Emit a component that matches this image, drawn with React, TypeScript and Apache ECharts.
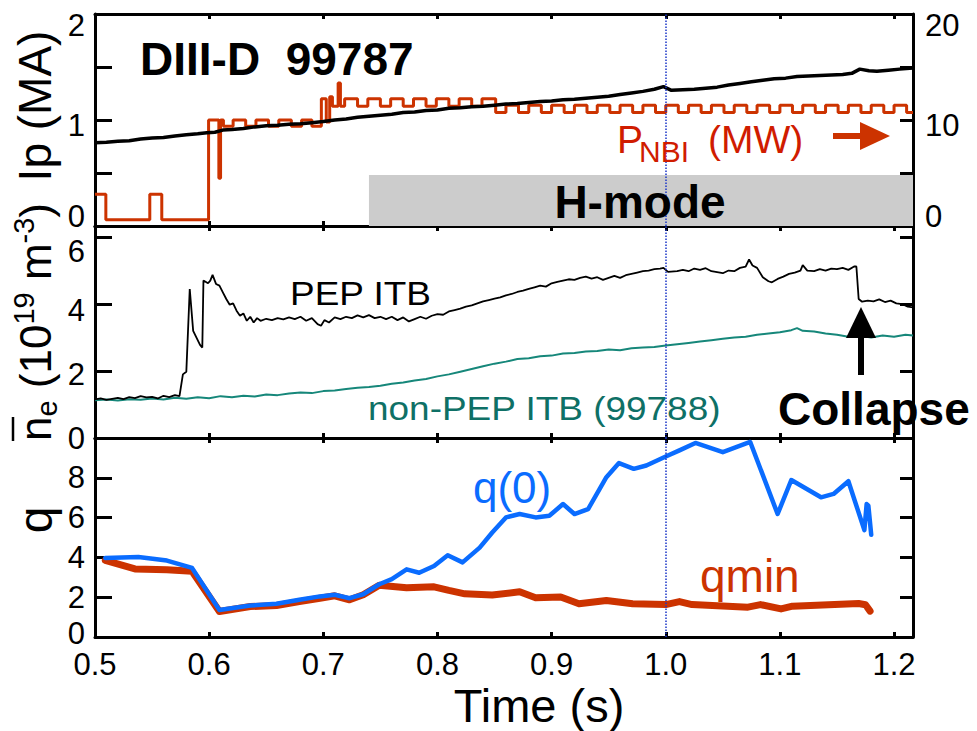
import React, { useEffect, useRef } from 'react';
import * as echarts from 'echarts';

const FONT = '"Liberation Sans", Arial, Helvetica, sans-serif';
const X_MIN = 0.5;
const X_MAX = 1.2166;

// ---- tick values / labels ----
const xTicks = [0.5, 0.6, 0.7, 0.8, 0.9, 1.0, 1.1, 1.2];
const ipTicks = [0, 0.5, 1, 1.5, 2];
const ipLabels = [0, 1, 2];
const nbiTicks = [0, 5, 10, 15, 20];
const nbiLabels = [0, 10, 20];
const neTicks = [2, 4, 6];
const neLabels = [0, 2, 4, 6];
const qTicks = [2, 4, 6, 8];
const qLabels = [0, 2, 4, 6, 8];

// ---- data: plasma current Ip (MA) ----
const ipCurrent: [number, number][] = [
  [0.500, 0.785], [0.510, 0.79], [0.520, 0.80], [0.530, 0.805], [0.540, 0.82], [0.550, 0.83],
  [0.560, 0.835], [0.570, 0.85], [0.580, 0.86], [0.590, 0.87], [0.598, 0.88], [0.605, 0.885],
  [0.612, 0.905], [0.620, 0.91], [0.630, 0.92], [0.640, 0.935], [0.650, 0.945], [0.660, 0.95],
  [0.670, 0.96], [0.680, 0.965], [0.690, 0.975], [0.700, 0.985], [0.710, 1.0], [0.720, 1.01],
  [0.730, 1.025], [0.740, 1.035], [0.750, 1.045], [0.760, 1.055], [0.770, 1.07], [0.780, 1.075],
  [0.790, 1.09], [0.800, 1.095], [0.810, 1.11], [0.820, 1.115], [0.830, 1.125], [0.840, 1.13],
  [0.850, 1.14], [0.860, 1.15], [0.870, 1.155], [0.880, 1.165], [0.890, 1.175], [0.900, 1.18],
  [0.910, 1.19], [0.920, 1.195], [0.930, 1.205], [0.940, 1.215], [0.950, 1.225], [0.960, 1.24],
  [0.970, 1.255], [0.980, 1.27], [0.990, 1.29], [0.998, 1.315], [1.005, 1.28], [1.015, 1.285],
  [1.025, 1.29], [1.035, 1.30], [1.045, 1.31], [1.055, 1.33], [1.065, 1.345], [1.075, 1.36],
  [1.085, 1.375], [1.095, 1.39], [1.105, 1.395], [1.115, 1.41], [1.125, 1.415], [1.135, 1.42],
  [1.145, 1.425], [1.155, 1.43], [1.163, 1.44], [1.170, 1.48], [1.178, 1.465], [1.185, 1.46],
  [1.195, 1.47], [1.205, 1.48], [1.2166, 1.49],
];

// ---- data: neutral beam power P_NBI (MW), step points ----
const nbiPower: [number, number][] = [
  [0.500, 3.0], [0.5095, 0.6], [0.548, 3.0], [0.5585, 0.6], [0.5995, 10.0], [0.6085, 4.5],
  [0.610, 10.0], [0.6125, 9.4], [0.621, 10.0], [0.632, 9.4], [0.641, 10.0], [0.652, 9.4],
  [0.661, 10.0], [0.672, 9.4], [0.681, 10.0], [0.690, 9.4], [0.6983, 12.0], [0.7026, 9.8],
  [0.7056, 12.2], [0.708, 11.3], [0.7130, 13.5], [0.7150, 11.3], [0.7187, 12.0], [0.730, 11.3],
  [0.739, 12.0], [0.750, 11.3], [0.759, 12.0], [0.770, 11.3], [0.779, 12.0], [0.790, 11.3],
  [0.799, 12.0], [0.810, 11.3], [0.819, 12.0], [0.830, 11.3], [0.839, 12.0], [0.851, 10.7],
  [0.860, 11.4], [0.871, 10.7], [0.880, 11.4], [0.891, 10.7], [0.900, 11.4], [0.911, 10.7],
  [0.920, 11.4], [0.931, 10.7], [0.940, 11.4], [0.951, 10.7], [0.960, 11.4], [0.971, 10.7],
  [0.980, 11.4], [0.991, 10.7], [1.000, 11.4], [1.011, 10.7], [1.020, 11.4], [1.031, 10.7],
  [1.040, 11.4], [1.051, 10.7], [1.060, 11.4], [1.071, 10.7], [1.080, 11.4], [1.091, 10.7],
  [1.100, 11.4], [1.111, 10.7], [1.120, 11.4], [1.131, 10.7], [1.140, 11.4], [1.151, 10.7],
  [1.160, 11.4], [1.171, 10.7], [1.180, 11.4], [1.191, 10.7], [1.200, 11.4], [1.211, 10.7],
  [1.2166, 10.7],
];

// ---- data: line-averaged density, PEP ITB shot 99787 ----
const nePep: [number, number][] = [
  [0.500, 1.15], [0.505, 1.18], [0.510, 1.14], [0.515, 1.17], [0.520, 1.20], [0.525, 1.16],
  [0.530, 1.22], [0.535, 1.19], [0.540, 1.25], [0.545, 1.21], [0.550, 1.23], [0.555, 1.18],
  [0.560, 1.26], [0.565, 1.22], [0.570, 1.28], [0.574, 1.25], [0.577, 1.90], [0.580, 1.98],
  [0.583, 4.45], [0.586, 3.20], [0.592, 2.78], [0.594, 2.70], [0.595, 4.70], [0.599, 4.62],
  [0.601, 4.70], [0.603, 4.87], [0.606, 4.60], [0.609, 4.55], [0.612, 4.35], [0.615, 4.15],
  [0.618, 3.98], [0.621, 4.02], [0.624, 3.80], [0.627, 3.65], [0.630, 3.72], [0.633, 3.50],
  [0.636, 3.62], [0.639, 3.45], [0.642, 3.58], [0.645, 3.50], [0.650, 3.56], [0.655, 3.52],
  [0.660, 3.58], [0.665, 3.54], [0.670, 3.60], [0.675, 3.55], [0.680, 3.62], [0.685, 3.50],
  [0.690, 3.58], [0.695, 3.40], [0.698, 3.35], [0.701, 3.52], [0.705, 3.45], [0.710, 3.60],
  [0.715, 3.55], [0.720, 3.62], [0.725, 3.58], [0.730, 3.66], [0.735, 3.60], [0.740, 3.67],
  [0.745, 3.58], [0.750, 3.62], [0.755, 3.55], [0.760, 3.62], [0.765, 3.52], [0.770, 3.60],
  [0.775, 3.48], [0.780, 3.55], [0.785, 3.62], [0.790, 3.56], [0.795, 3.65], [0.800, 3.70],
  [0.805, 3.68], [0.810, 3.78], [0.815, 3.82], [0.820, 3.86], [0.825, 3.92], [0.830, 3.96],
  [0.835, 4.02], [0.840, 4.08], [0.845, 4.12], [0.850, 4.16], [0.855, 4.20], [0.860, 4.26],
  [0.865, 4.30], [0.870, 4.36], [0.875, 4.40], [0.880, 4.45], [0.885, 4.50], [0.890, 4.55],
  [0.895, 4.52], [0.900, 4.62], [0.905, 4.66], [0.910, 4.70], [0.915, 4.74], [0.920, 4.72],
  [0.925, 4.78], [0.930, 4.82], [0.935, 4.76], [0.940, 4.80], [0.945, 4.72], [0.950, 4.78],
  [0.955, 4.84], [0.960, 4.78], [0.965, 4.86], [0.970, 4.90], [0.975, 4.94], [0.980, 4.98],
  [0.985, 5.00], [0.990, 5.04], [0.995, 5.06], [0.998, 5.08], [1.002, 4.96], [1.010, 4.98],
  [1.015, 5.02], [1.020, 4.98], [1.025, 5.06], [1.030, 5.02], [1.035, 5.07], [1.040, 4.98],
  [1.045, 4.95], [1.050, 4.92], [1.055, 5.00], [1.060, 4.98], [1.065, 5.08], [1.070, 5.12],
  [1.073, 5.33], [1.076, 5.15], [1.080, 5.08], [1.085, 4.80], [1.090, 4.68], [1.093, 4.65],
  [1.098, 4.75], [1.103, 4.82], [1.108, 4.90], [1.113, 4.94], [1.118, 5.00], [1.120, 5.16],
  [1.124, 5.00], [1.130, 4.98], [1.135, 5.04], [1.140, 5.00], [1.145, 5.06], [1.150, 5.04],
  [1.155, 5.08], [1.160, 5.02], [1.165, 5.12], [1.167, 5.12], [1.169, 4.15], [1.172, 4.07],
  [1.177, 4.10], [1.182, 4.08], [1.187, 4.14], [1.192, 4.06], [1.197, 4.10], [1.202, 4.02],
  [1.207, 4.00], [1.212, 3.92], [1.2166, 3.90],
];

// ---- data: line-averaged density, non-PEP ITB shot 99788 ----
const neNonPep: [number, number][] = [
  [0.500, 1.13], [0.510, 1.15], [0.520, 1.12], [0.530, 1.16], [0.540, 1.14], [0.550, 1.18],
  [0.560, 1.15], [0.570, 1.20], [0.580, 1.17], [0.590, 1.22], [0.600, 1.19], [0.610, 1.25],
  [0.620, 1.22], [0.630, 1.26], [0.640, 1.24], [0.650, 1.30], [0.660, 1.28], [0.670, 1.33],
  [0.680, 1.36], [0.690, 1.34], [0.700, 1.40], [0.710, 1.42], [0.720, 1.46], [0.730, 1.50],
  [0.740, 1.52], [0.750, 1.56], [0.760, 1.62], [0.770, 1.66], [0.780, 1.72], [0.790, 1.76],
  [0.800, 1.84], [0.810, 1.90], [0.820, 1.98], [0.830, 2.06], [0.840, 2.14], [0.850, 2.22],
  [0.860, 2.28], [0.870, 2.36], [0.880, 2.38], [0.890, 2.44], [0.900, 2.46], [0.910, 2.52],
  [0.920, 2.54], [0.930, 2.58], [0.940, 2.60], [0.950, 2.64], [0.960, 2.62], [0.970, 2.68],
  [0.980, 2.70], [0.990, 2.72], [1.000, 2.76], [1.010, 2.80], [1.020, 2.84], [1.030, 2.88],
  [1.040, 2.92], [1.050, 2.96], [1.060, 3.00], [1.070, 3.02], [1.080, 3.08], [1.090, 3.12],
  [1.100, 3.16], [1.110, 3.22], [1.115, 3.28], [1.120, 3.20], [1.130, 3.18], [1.140, 3.12],
  [1.150, 3.08], [1.160, 3.02], [1.170, 3.05], [1.180, 3.00], [1.190, 3.06], [1.200, 3.02],
  [1.210, 3.08], [1.2166, 3.06],
];

// ---- data: safety factor ----
const qAxis: [number, number][] = [
  [0.509, 3.97], [0.538, 4.02], [0.563, 3.84], [0.585, 3.47], [0.609, 1.36], [0.636, 1.58],
  [0.659, 1.67], [0.679, 1.87], [0.697, 2.04], [0.710, 2.12], [0.723, 1.95], [0.735, 2.15],
  [0.749, 2.65], [0.760, 2.91], [0.773, 3.40], [0.784, 3.23], [0.797, 3.57], [0.809, 4.11],
  [0.822, 3.75], [0.837, 4.49], [0.848, 5.25], [0.860, 6.01], [0.872, 6.18], [0.886, 6.01],
  [0.898, 6.09], [0.910, 6.68], [0.920, 6.18], [0.932, 6.43], [0.948, 8.03], [0.959, 8.74],
  [0.972, 8.45], [0.983, 8.62], [1.000, 9.07], [1.012, 9.38], [1.026, 9.75], [1.050, 9.29],
  [1.074, 9.80], [1.098, 6.18], [1.110, 7.89], [1.136, 7.02], [1.147, 7.19], [1.160, 7.83],
  [1.174, 5.37], [1.176, 6.68], [1.1775, 6.60], [1.180, 5.14],
];
const qMin: [number, number][] = [
  [0.509, 3.85], [0.535, 3.42], [0.563, 3.38], [0.585, 3.30], [0.609, 1.28], [0.636, 1.53],
  [0.659, 1.58], [0.679, 1.78], [0.697, 1.95], [0.710, 2.07], [0.723, 1.87], [0.735, 2.12],
  [0.749, 2.60], [0.773, 2.47], [0.797, 2.52], [0.810, 2.34], [0.824, 2.17], [0.848, 2.11],
  [0.872, 2.27], [0.886, 1.97], [0.908, 2.01], [0.924, 1.67], [0.948, 1.83], [0.971, 1.67],
  [1.000, 1.63], [1.012, 1.78], [1.023, 1.63], [1.072, 1.50], [1.083, 1.63], [1.101, 1.41],
  [1.111, 1.55], [1.169, 1.68], [1.175, 1.62], [1.179, 1.30],
];

const H_MODE_START = 0.74;
const H_MODE_TOP = 4.8;
const MARK_TIME = 1.0;

const RED = '#cc3300';
const BLUE = '#0a6cff';
const TEAL = '#16877a';
const LABEL_FS = 31;

function labelCfg(labels: number[], shifts: Record<string, number>, extra: any = {}) {
  const rich: any = { n: { fontSize: LABEL_FS, fontFamily: FONT, color: '#000', lineHeight: 30 } };
  Object.keys(shifts).forEach((k) => {
    const s = shifts[k];
    rich['v' + k] = {
      fontSize: LABEL_FS, fontFamily: FONT, color: '#000', lineHeight: 30,
      padding: s > 0 ? [2 * s, 0, 0, 0] : [0, 0, -2 * s, 0],
    };
  });
  return {
    show: true,
    customValues: labels,
    fontSize: LABEL_FS,
    fontFamily: FONT,
    color: '#000',
    rich,
    formatter: (v: number) => {
      if (labels.indexOf(v) < 0) return '';
      const k = String(v);
      return shifts[k] !== undefined ? `{v${k}|${v}}` : `{n|${v}}`;
    },
    ...extra,
  };
}

function xAx(gridIndex: number, position: string, showLabels: boolean) {
  return {
    type: 'value', gridIndex, position, min: X_MIN, max: X_MAX,
    axisLine: { show: true, onZero: false, lineStyle: { color: '#000', width: 3 } },
    axisTick: { show: true, inside: true, length: 5, customValues: xTicks, lineStyle: { color: '#000', width: 3 } },
    axisLabel: showLabels
      ? { show: true, customValues: xTicks, formatter: (v: number) => v.toFixed(1), fontSize: 31, lineHeight: 30, fontFamily: FONT, color: '#000', margin: 12 }
      : { show: false },
    splitLine: { show: false },
  };
}

function yAx(gridIndex: number, position: string, min: number, max: number, ticks: number[], tickLen: number, label: any) {
  return {
    type: 'value', gridIndex, position, min, max,
    axisLine: { show: true, onZero: false, lineStyle: { color: '#000', width: 3 } },
    axisTick: { show: true, inside: true, length: tickLen, customValues: ticks, lineStyle: { color: '#000', width: 3 } },
    axisLabel: label,
    splitLine: { show: false },
  };
}

const dottedMark = {
  silent: true,
  symbol: ['none', 'none'],
  label: { show: false },
  lineStyle: { type: 'dotted', color: '#1a35c8', width: 1.5 },
  data: [{ xAxis: MARK_TIME }],
};

const txt = (text: string, x: number, y: number, fontSize: number, fill: string, extra: any = {}, elExtra: any = {}) => ({
  type: 'text', x, y, z: 100, ...elExtra,
  style: {
    text, fontSize, fontFamily: FONT, fill,
    align: 'left', verticalAlign: 'middle', textAlign: 'left', textVerticalAlign: 'middle',
    ...extra,
  },
});

const gridBase = { containLabel: false, outerBoundsMode: 'none' };

export default function App() {
  const ref = useRef<HTMLDivElement>(null);
  useEffect(() => {
    if (!ref.current) return;
    const chart = echarts.init(ref.current, null, { renderer: 'svg' });
    const option: any = {
      animation: false,
      textStyle: { fontFamily: FONT },
      grid: [
        { ...gridBase, left: 95, top: 14, width: 818, height: 212 },
        { ...gridBase, left: 95, top: 226, width: 818, height: 212 },
        { ...gridBase, left: 95, top: 438, width: 818, height: 199 },
      ],
      xAxis: [
        xAx(0, 'bottom', false), xAx(0, 'top', false),
        xAx(1, 'bottom', false), xAx(1, 'top', false),
        xAx(2, 'bottom', true), xAx(2, 'top', false),
      ],
      yAxis: [
        yAx(0, 'left', 0, 2, ipTicks, 17, labelCfg(ipLabels, { '2': 11, '1': 5, '0': -10 }, { margin: 10 })),
        yAx(0, 'right', 0, 20, nbiTicks, 13, labelCfg(nbiLabels, { '20': 11, '10': 5, '0': -10 }, { margin: 12 })),
        yAx(1, 'left', 0, 6.33, neTicks, 17, labelCfg(neLabels, { '6': 14, '4': 6, '2': 3 }, { margin: 10 })),
        yAx(1, 'right', 0, 6.33, neTicks, 13, { show: false }),
        yAx(2, 'left', 0, 10, qTicks, 17, labelCfg(qLabels, { '0': -4 }, { margin: 10 })),
        yAx(2, 'right', 0, 10, qTicks, 13, { show: false }),
      ],
      series: [
        {
          name: 'Ip', type: 'line', xAxisIndex: 0, yAxisIndex: 0, data: ipCurrent,
          symbol: 'none', lineStyle: { color: '#000', width: 3.5 }, z: 3,
          markLine: dottedMark,
        },
        {
          name: 'PNBI', type: 'line', xAxisIndex: 0, yAxisIndex: 1, data: nbiPower, step: 'end',
          symbol: 'none', lineStyle: { color: RED, width: 3 }, z: 2,
          markArea: {
            silent: true,
            itemStyle: { color: '#cccccc' },
            data: [[{ xAxis: H_MODE_START, yAxis: 0 }, { xAxis: X_MAX, yAxis: H_MODE_TOP }]],
          },
        },
        {
          name: 'non-PEP ITB', type: 'line', xAxisIndex: 2, yAxisIndex: 2, data: neNonPep,
          symbol: 'none', lineStyle: { color: TEAL, width: 2 },
          markLine: dottedMark,
        },
        {
          name: 'PEP ITB', type: 'line', xAxisIndex: 2, yAxisIndex: 2, data: nePep,
          symbol: 'none', lineStyle: { color: '#000', width: 1.8 },
        },
        {
          name: 'qmin', type: 'line', xAxisIndex: 4, yAxisIndex: 4, data: qMin,
          symbol: 'none', lineStyle: { color: RED, width: 7, join: 'round', cap: 'round' },
          markLine: dottedMark,
        },
        {
          name: 'q(0)', type: 'line', xAxisIndex: 4, yAxisIndex: 4, data: qAxis,
          symbol: 'none', lineStyle: { color: BLUE, width: 4.5, join: 'round', cap: 'round' },
        },
      ],
      graphic: {
        elements: [
          txt('DIII-D  99787', 140, 59, 46, '#000', { fontWeight: 'bold' }),
          txt('H-mode', 640, 202, 46, '#000', { fontWeight: 'bold', align: 'center', textAlign: 'center' }),
          txt('P', 617, 139, 39, '#d01c00'),
          txt('NBI', 639, 151, 30, '#d01c00'),
          txt('(MW)', 708, 139, 39, '#d01c00'),
          { type: 'rect', z: 100, shape: { x: 833, y: 133, width: 30, height: 6 }, style: { fill: RED } },
          { type: 'polygon', z: 100, shape: { points: [[860, 122], [890, 136], [860, 150]] }, style: { fill: RED } },
          txt('PEP ITB', 290, 293, 33, '#000', {}, { scaleX: 1.12 }),
          txt('non-PEP ITB (99788)', 368, 408, 33, '#0e7066', {}, { scaleX: 1.12 }),
          txt('Collapse', 778, 409, 46, '#000', { fontWeight: 'bold' }),
          { type: 'rect', z: 100, shape: { x: 858, y: 334, width: 6, height: 41 }, style: { fill: '#000' } },
          { type: 'polygon', z: 100, shape: { points: [[846, 338], [876, 338], [861, 307]] }, style: { fill: '#000' } },
          txt('q(0)', 473, 487, 44, BLUE),
          txt('qmin', 700, 576, 46, RED),
          txt('Time (s)', 539, 705, 47, '#000', { align: 'center', textAlign: 'center', lineHeight: 40 }),
          {
            type: 'group', x: 35, y: 106, rotation: Math.PI / 2, z: 100,
            children: [txt('Ip (MA)', 0, 0, 46, '#000', { align: 'center', textAlign: 'center' })],
          },
          {
            type: 'group', x: 35, y: 520, rotation: Math.PI / 2, z: 100,
            children: [txt('q', 0, 0, 48, '#000', { align: 'center', textAlign: 'center' })],
          },
          {
            type: 'group', x: 35, y: 322, rotation: Math.PI / 2, z: 100,
            children: [
              txt('{m|n}{s|e}{m| (10}{p|19}{m| m}{p|-3}{m|)}', -119, 0, 44, '#000', {
                rich: {
                  m: { fontSize: 44, fontFamily: FONT, fill: '#000', lineHeight: 52, verticalAlign: 'middle' },
                  s: { fontSize: 29, fontFamily: FONT, fill: '#000', verticalAlign: 'bottom' },
                  p: { fontSize: 29, fontFamily: FONT, fill: '#000', verticalAlign: 'top' },
                },
              }),
              { type: 'line', z: 100, shape: { x1: -119, y1: -22, x2: -95, y2: -22 }, style: { stroke: '#000', lineWidth: 2.5 } },
            ],
          },
        ],
      },
    };
    chart.setOption(option);
    return () => chart.dispose();
  }, []);
  return <div ref={ref} style={{ position: 'fixed', left: 0, top: 0, width: 977, height: 731, background: '#fff' }} />;
}
